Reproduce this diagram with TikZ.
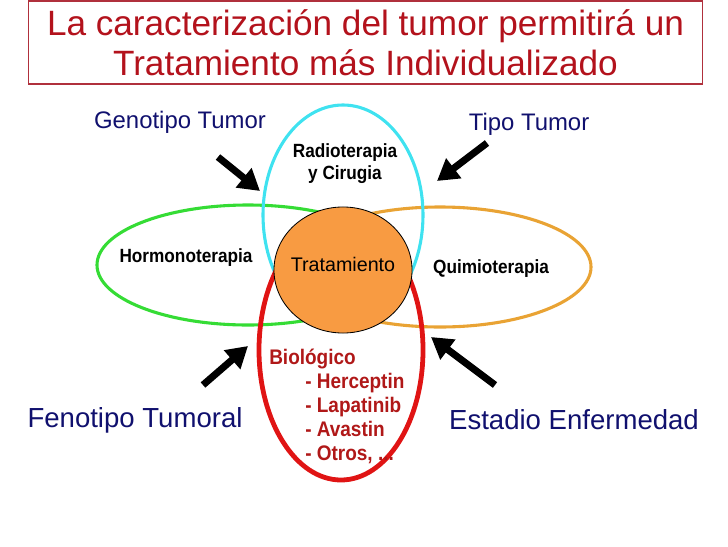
\documentclass[tikz,border=0pt]{standalone}
\usepackage{fontspec}
\setmainfont{Liberation Sans}
\newfontfamily\narrowsans[FakeStretch=0.9]{Liberation Sans}
\usepackage{xcolor}
\usepackage{tikz}
\usetikzlibrary{arrows.meta,shapes.geometric}
\definecolor{tumorTitle}{HTML}{B3121C}
\definecolor{tumorFrame}{HTML}{B0303C}
\definecolor{tumorNavy}{HTML}{10106E}
\definecolor{tumorCyan}{HTML}{3FE2F0}
\definecolor{tumorGreen}{HTML}{35DC35}
\definecolor{tumorOrange}{HTML}{E9A334}
\definecolor{tumorRed}{HTML}{E01414}
\definecolor{tumorCore}{HTML}{F89B42}
\definecolor{tumorDrug}{HTML}{B01818}
\tikzset{
  factor/.style={
    text=tumorNavy,
    inner sep=1pt,
    font=\fontsize{17}{20}\selectfont
  },
  factorBig/.style={
    text=tumorNavy,
    inner sep=1pt,
    font=\fontsize{19.6}{23}\selectfont
  },
  therapy/.style={
    inner sep=1pt,
    align=center,
    font=\narrowsans\bfseries\fontsize{13.6}{15.6}\selectfont
  },
  drug/.style={
    text=tumorDrug,
    inner sep=0pt,
    anchor=base west,
    font=\narrowsans\bfseries\fontsize{15}{16}\selectfont
  },
  field/.style={
    line width=2.2pt
  },
  pointer/.style={
    -{Triangle[length=15pt,width=17pt]},
    line width=5pt,
    draw=black
  }
}

\begin{document}
\begin{tikzpicture}[x=0.025cm,y=-0.025cm]
  \useasboundingbox (0,0) rectangle (728,546);
  % title
  \node[draw=tumorFrame,line width=0.8pt,minimum width=16.825cm,minimum height=2.075cm,
    align=center,text=tumorTitle,font=\fontsize{25}{28.4}\selectfont] (title) at (365.5,42.5)
    {La caracterización del tumor permitirá un\\Tratamiento más Individualizado};
  % overlapping fields
  \draw[field,draw=tumorGreen] (248,265) ellipse [x radius=151,y radius=60];
  \draw[field,draw=tumorOrange] (440,267) ellipse [x radius=151,y radius=60];
  \draw[field,draw=tumorCyan] (343,215) ellipse [x radius=80,y radius=110];
  \draw[line width=3.4pt,draw=tumorRed] (341,350) ellipse [x radius=82,y radius=130];
  \node[ellipse,draw=black,line width=0.6pt,fill=tumorCore,minimum width=3.45cm,minimum height=3.15cm] (core) at (343,270) {};
  \node[inner sep=1pt,font=\fontsize{14}{16}\selectfont] (trat) at (343,264) {Tratamiento};
  \node[therapy] (radio) at (345,164) {Radioterapia\\y Cirugia};
  \node[therapy] (hormono) at (186,258) {Hormonoterapia};
  \node[therapy] (quimio) at (491,269) {Quimioterapia};
  \node[drug] (bio) at (269,364) {Biológico};
  \node[drug] (herceptin) at (305,388) {- Herceptin};
  \node[drug] (lapatinib) at (305,412) {- Lapatinib};
  \node[drug] (avastin) at (305,436) {- Avastin};
  \node[drug] (otros) at (305,460) {- Otros, ...};
  % factors
  \node[factor] (geno) at (180,122) {Genotipo Tumor};
  \node[factor] (tipo) at (529,124) {Tipo Tumor};
  \node[factorBig] (feno) at (135,420) {Fenotipo Tumoral};
  \node[factorBig] (estadio) at (574,420) {Estadio Enfermedad};
  \coordinate (genoTail) at (218,157);
  \coordinate (genoTip) at (260,191);
  \coordinate (tipoTail) at (487,143);
  \coordinate (tipoTip) at (437,181);
  \coordinate (fenoTail) at (203,385);
  \coordinate (fenoTip) at (248,346);
  \coordinate (estadioTail) at (495,385);
  \coordinate (estadioTip) at (431,337);
  \draw[pointer] (genoTail) -- (genoTip);
  \draw[pointer] (tipoTail) -- (tipoTip);
  \draw[pointer] (fenoTail) -- (fenoTip);
  \draw[pointer] (estadioTail) -- (estadioTip);
\end{tikzpicture}
\end{document}
